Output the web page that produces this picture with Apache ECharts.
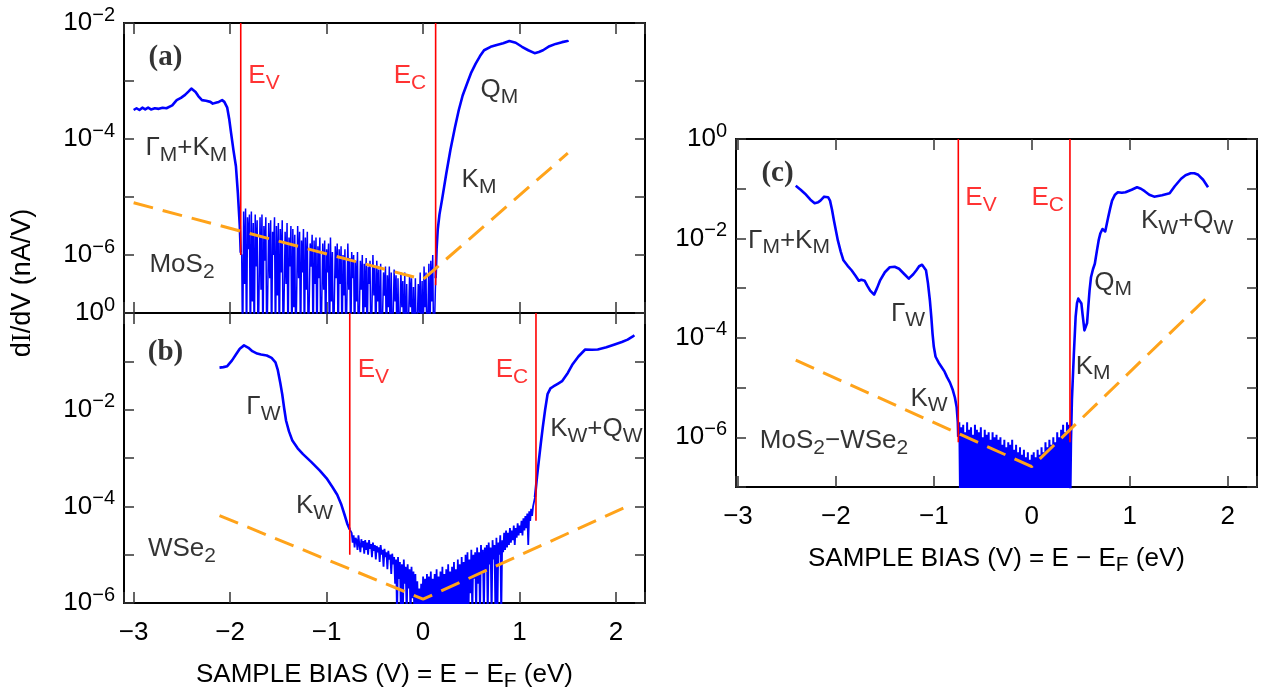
<!DOCTYPE html>
<html><head><meta charset="utf-8">
<script src="https://cdn.jsdelivr.net/npm/echarts@6/dist/echarts.min.js"></script>
<style>html,body{margin:0;padding:0;background:#fff}#c{width:1262px;height:694px}</style>
</head><body><div id="c"></div>
<script>
// ---------- DATA (x: sample bias in eV, y: log10 of dI/dV in nA/V) ----------
// Panel (a) MoS2
const mos2Left = [[-3.00,-3.50],[-2.97,-3.47],[-2.94,-3.50],[-2.91,-3.46],[-2.88,-3.49],[-2.85,-3.46],[-2.82,-3.49],[-2.78,-3.47],[-2.74,-3.48],[-2.70,-3.46],[-2.66,-3.47],[-2.64,-3.47],[-2.60,-3.42],[-2.554,-3.33],[-2.51,-3.29],[-2.467,-3.24],[-2.43,-3.18],[-2.402,-3.13],[-2.38,-3.16],[-2.358,-3.19],[-2.33,-3.26],[-2.292,-3.33],[-2.25,-3.34],[-2.205,-3.36],[-2.18,-3.39],[-2.162,-3.41],[-2.14,-3.37],[-2.118,-3.36],[-2.083,-3.33],[-2.06,-3.36],[-2.03,-3.46],[-2.01,-3.65],[-1.99,-3.90],[-1.965,-4.2],[-1.94,-4.47],[-1.92,-4.93],[-1.90,-5.5],[-1.89,-5.96]];
const mos2NoiseStart = -1.88, mos2NoiseStep = 0.01;
const mos2Noise = [
 -6.0,-7.8,-5.25,-6.5,-5.2,-7.8,-5.35,-5.9,-5.3,-7.8,-5.25,-6.8,-5.45,-7.8,-5.3,-6.2,-5.4,-7.8,-7.8,-5.35,
 -6.6,-5.3,-7.8,-5.5,-6.1,-5.35,-7.8,-7.8,-5.45,-6.4,-5.4,-7.8,-5.6,-6.0,-5.35,-7.8,-5.5,-6.7,-5.45,-7.8,
 -5.55,-6.3,-5.4,-7.8,-7.8,-5.6,-6.5,-5.45,-7.8,-5.7,-6.2,-5.5,-7.8,-5.55,-6.9,-5.65,-7.8,-7.8,-5.5,-6.4,
 -5.6,-7.8,-5.75,-6.3,-5.55,-7.8,-5.7,-6.6,-5.6,-7.8,-7.8,-5.8,-6.2,-5.65,-7.8,-5.75,-6.5,-5.7,-7.8,-5.85,
 -6.4,-5.7,-7.8,-7.8,-5.8,-6.6,-5.75,-7.8,-5.9,-6.3,-5.8,-7.8,-5.7,-6.8,-5.95,-7.8,-7.8,-5.85,-6.4,-5.8,
 -7.8,-5.9,-6.5,-5.85,-7.8,-6.0,-6.7,-5.9,-7.8,-7.8,-5.8,-6.6,-6.05,-7.8,-5.95,-6.4,-6.0,-7.8,-6.1,-6.8,
 -5.95,-7.8,-7.8,-6.1,-6.6,-6.0,-7.8,-6.15,-6.9,-6.05,-7.8,-6.2,-6.5,-6.1,-7.8,-7.8,-6.0,-6.7,-6.2,-7.8,
 -6.1,-6.8,-6.25,-7.8,-6.15,-7.8,-7.8,-6.3,-6.7,-6.2,-7.8,-6.35,-6.9,-6.2,-7.8,-6.3,-7.8,-7.8,-6.25,-6.8,
 -6.35,-7.8,-6.4,-7.8,-7.8,-6.3,-6.9,-6.45,-7.8,-6.3,-7.8,-6.5,-7.8,-7.8,-6.35,-6.9,-6.4,-7.8,-6.55,-7.8,
 -6.4,-7.8,-7.8,-6.5,-7.0,-6.3,-7.8,-6.45,-7.8,-6.2,-6.9,-6.3,-7.8,-7.8,-6.15,-7.8,-6.1,-6.8,-6.0,-7.8,
 -7.8];
const mos2Right = [[0.13,-6.4],[0.14,-5.9],[0.152,-5.56],[0.17,-5.3],[0.196,-5.05],[0.24,-4.6],[0.283,-4.19],[0.33,-3.8],[0.37,-3.50],[0.41,-3.25],[0.457,-3.04],[0.50,-2.85],[0.545,-2.70],[0.59,-2.57],[0.632,-2.47],[0.70,-2.41],[0.763,-2.38],[0.83,-2.35],[0.894,-2.31],[0.96,-2.34],[1.025,-2.41],[1.09,-2.47],[1.156,-2.52],[1.20,-2.50],[1.243,-2.47],[1.31,-2.40],[1.374,-2.36],[1.44,-2.33],[1.496,-2.31],[1.50,-2.33]];
const mos2Fit = [[-3.0,-5.10],[0.0,-6.42],[1.5,-4.245]];
const mos2Ev = [-1.89, -2, -6.0];   // x, top, bottom
const mos2Ec = [0.13, -2, -6.52];

// Panel (b) WSe2
const wse2Left = [[-2.11,-1.13],[-2.07,-1.12],[-2.03,-1.10],[-1.98,-0.98],[-1.94,-0.86],[-1.90,-0.74],[-1.856,-0.67],[-1.81,-0.72],[-1.77,-0.79],[-1.72,-0.84],[-1.68,-0.86],[-1.62,-0.88],[-1.57,-0.93],[-1.53,-1.02],[-1.507,-1.17],[-1.48,-1.45],[-1.46,-1.68],[-1.44,-1.97],[-1.42,-2.23],[-1.39,-2.45],[-1.355,-2.64],[-1.30,-2.80],[-1.245,-2.92],[-1.16,-3.08],[-1.07,-3.26],[-1.00,-3.42],[-0.94,-3.60],[-0.89,-3.76],[-0.85,-3.95],[-0.81,-4.2],[-0.786,-4.36],[-0.76,-4.48]];
const wse2NoiseStart = -0.74, wse2NoiseStep = 0.01;
const wse2Noise = [
 -4.55,-4.75,-4.6,-4.85,-4.65,-4.7,-4.9,-4.6,-4.8,-4.95,-4.68,-4.85,-4.72,-4.98,-4.7,-4.9,-4.75,-5.0,-4.7,-4.88,
 -4.78,-5.05,-4.75,-4.92,-4.8,-5.1,-4.82,-4.95,-4.85,-5.15,-4.8,-5.0,-4.9,-5.25,-4.88,-5.05,-4.95,-5.3,-4.92,-5.1,
 -5.0,-5.4,-4.98,-5.2,-5.05,-5.6,-5.1,-6.3,-5.05,-5.5,-5.15,-6.3,-5.2,-6.3,-5.1,-5.6,-5.25,-6.3,-5.2,-5.7,
 -5.3,-6.3,-5.25,-5.9,-5.35,-6.3,-5.4,-6.3,-5.55,-6.3,-5.7,-6.3,-5.6,-6.3,-5.45,-6.3,-5.5,-6.3,-5.4,-6.3,
 -5.45,-6.3,-5.35,-6.3,-5.5,-6.3,-5.4,-6.3,-5.3,-6.3,-5.45,-6.3,-5.35,-6.3,-5.25,-6.3,-5.4,-6.3,-5.3,-6.3,
 -5.2,-6.3,-5.35,-6.3,-5.25,-6.3,-5.15,-6.3,-5.3,-6.3,-5.1,-6.3,-5.2,-6.3,-5.05,-6.3,-5.15,-6.3,-5.0,-6.3,
 -4.95,-6.3,-5.1,-5.8,-4.9,-6.3,-5.0,-5.5,-4.95,-6.3,-4.85,-5.6,-4.95,-6.3,-4.8,-5.4,-4.9,-6.3,-4.85,-5.3,
 -4.8,-6.3,-4.75,-5.2,-4.85,-6.3,-4.7,-5.1,-4.8,-6.3,-4.65,-6.3,-4.75,-5.0,-4.6,-6.3,-4.7,-4.95,-4.55,-4.9,
 -4.5,-4.85,-4.55,-4.8,-4.45,-4.75,-4.5,-4.7,-4.4,-4.8,-4.45,-4.65,-4.35,-4.6,-4.4,-4.55,-4.3,-4.6,-4.25,-4.5,
 -4.2,-4.45,-4.15,-4.8,-4.1,-4.3,-4.05,-4.2,-4.0];
const wse2Right = [[1.16,-3.81],[1.18,-3.40],[1.20,-3.05],[1.22,-2.70],[1.24,-2.37],[1.265,-2.0],[1.29,-1.68],[1.32,-1.56],[1.35,-1.52],[1.40,-1.46],[1.44,-1.41],[1.50,-1.24],[1.55,-1.06],[1.61,-0.90],[1.68,-0.755],[1.75,-0.76],[1.81,-0.755],[1.90,-0.71],[1.985,-0.65],[2.06,-0.60],[2.12,-0.55],[2.17,-0.49],[2.19,-0.46]];
const wse2Fit = [[-2.11,-4.19],[0.0,-5.92],[2.14,-3.98]];
const wse2Ev = [-0.76, 0, -5.0];
const wse2Ec = [1.17, 0, -4.3];

// Panel (c) MoS2-WSe2
const hetLeft = [[-2.41,-0.94],[-2.36,-1.02],[-2.315,-1.10],[-2.26,-1.22],[-2.217,-1.29],[-2.18,-1.27],[-2.158,-1.24],[-2.12,-1.16],[-2.10,-1.14],[-2.08,-1.17],[-2.06,-1.24],[-2.04,-1.42],[-2.02,-1.64],[-2.00,-1.84],[-1.98,-2.04],[-1.95,-2.27],[-1.923,-2.44],[-1.88,-2.55],[-1.84,-2.64],[-1.80,-2.75],[-1.766,-2.85],[-1.74,-2.83],[-1.707,-2.85],[-1.68,-2.95],[-1.65,-3.05],[-1.61,-3.13],[-1.58,-3.0],[-1.55,-2.85],[-1.50,-2.68],[-1.45,-2.58],[-1.40,-2.57],[-1.355,-2.61],[-1.30,-2.72],[-1.256,-2.81],[-1.21,-2.72],[-1.178,-2.64],[-1.15,-2.56],[-1.12,-2.53],[-1.10,-2.56],[-1.08,-2.64],[-1.06,-2.90],[-1.04,-3.25],[-1.025,-3.6],[-1.013,-3.92],[-1.00,-4.18],[-0.982,-4.38],[-0.95,-4.50],[-0.923,-4.58],[-0.89,-4.68],[-0.865,-4.79],[-0.835,-4.90],[-0.806,-5.05],[-0.785,-5.2],[-0.767,-5.39],[-0.755,-5.7],[-0.751,-5.99]];
const hetNoiseStart = -0.74, hetNoiseStep = 0.01;
const hetNoise = [
 -5.7,-7.6,-5.8,-7.6,-5.75,-7.6,-5.9,-7.6,-5.7,-7.6,-5.85,-7.6,-5.8,-7.6,-5.95,-7.6,-5.75,-7.6,-5.85,-7.6,
 -5.9,-7.6,-5.8,-7.6,-6.0,-7.6,-5.85,-7.6,-5.95,-7.6,-5.9,-7.6,-6.05,-7.6,-5.9,-7.6,-6.0,-7.6,-5.95,-7.6,
 -6.05,-7.6,-6.0,-7.6,-6.15,-7.6,-6.05,-7.6,-6.2,-7.6,-6.1,-7.6,-6.15,-7.6,-6.05,-7.6,-6.25,-7.6,-6.15,-7.6,
 -6.3,-7.6,-6.2,-7.6,-6.35,-7.6,-6.25,-7.6,-6.4,-7.6,-6.3,-7.6,-6.45,-7.6,-6.35,-7.6,-6.3,-7.6,-6.4,-7.6,
 -6.25,-7.6,-6.35,-7.6,-6.2,-7.6,-6.3,-7.6,-6.1,-7.6,-6.2,-7.6,-6.05,-7.6,-6.15,-7.6,-6.0,-7.6,-6.1,-7.6,
 -5.9,-7.6,-6.0,-7.6,-5.85,-7.6,-5.75,-7.6,-5.9,-7.6,-5.7,-7.6,-5.75];
const hetRight = [[0.39,-7.6],[0.40,-6.1],[0.41,-5.25],[0.43,-4.32],[0.448,-3.58],[0.462,-3.3],[0.475,-3.21],[0.49,-3.22],[0.507,-3.31],[0.52,-3.55],[0.538,-3.85],[0.554,-3.88],[0.565,-3.7],[0.577,-3.38],[0.59,-3.05],[0.605,-2.78],[0.625,-2.62],[0.644,-2.51],[0.665,-2.25],[0.683,-2.04],[0.70,-1.9],[0.722,-1.81],[0.735,-1.84],[0.75,-1.86],[0.765,-1.72],[0.781,-1.57],[0.80,-1.40],[0.82,-1.24],[0.85,-1.12],[0.879,-1.07],[0.92,-1.08],[0.957,-1.07],[1.02,-1.02],[1.075,-0.97],[1.115,-1.0],[1.153,-1.05],[1.20,-1.12],[1.25,-1.16],[1.33,-1.13],[1.408,-1.09],[1.46,-0.95],[1.525,-0.80],[1.57,-0.73],[1.623,-0.69],[1.66,-0.69],[1.70,-0.72],[1.75,-0.82],[1.80,-0.97]];
const hetFit = [[-2.41,-4.45],[0.0,-6.59],[1.81,-3.15]];
const hetEv = [-0.75, 0, -6.1];
const hetEc = [0.39, 0, -6.1];

// Annotations (text centre): [x (eV), log10 y, rich text]
const annA = [[-2.675,-2.60,'{p|(a)}'],[-1.654,-2.91,'{r|E}{rs|V}'],[-0.142,-2.91,'{r|E}{rs|C}'],[-2.458,-4.155,'{n|\u0393}{s|M}{n|+K}{s|M}'],[0.786,-3.155,'{n|Q}{s|M}'],[0.574,-4.71,'{n|K}{s|M}'],[-2.504,-6.17,'{n|MoS}{s|2}']];
const annB = [[-2.675,-0.826,'{p|(b)}'],[-0.52,-1.18,'{r|E}{rs|V}'],[0.916,-1.18,'{r|E}{rs|C}'],[-1.66,-1.94,'{n|\u0393}{s|W}'],[1.791,-2.40,'{n|K}{s|W}{n|+Q}{s|W}'],[-1.131,-3.99,'{n|K}{s|W}'],[-2.504,-4.88,'{n|WSe}{s|2}']];
const annC = [[-2.601,-0.703,'{p|(c)}'],[-0.523,-1.185,'{r|E}{rs|V}'],[0.157,-1.185,'{r|E}{rs|C}'],[-2.484,-2.04,'{n|\u0393}{s|M}{n|+K}{s|M}'],[-1.268,-3.51,'{n|\u0393}{s|W}'],[-1.054,-5.22,'{n|K}{s|W}'],[-2.024,-6.08,'{n|MoS}{s|2}{n|\u2212WSe}{s|2}'],[0.826,-2.89,'{n|Q}{s|M}'],[0.621,-4.58,'{n|K}{s|M}'],[1.582,-1.65,'{n|K}{s|W}{n|+Q}{s|W}']];

const xTitle = '{n|SAMPLE BIAS (V) = E \u2212 E}{s|F}{n| (eV)}';

// ---------- BUILD ----------
const FONT = '"Liberation Sans", Arial, sans-serif';
const SERIF = '"Liberation Serif", "Times New Roman", serif';
const toPts = a => a.map(p => [p[0], Math.pow(10, p[1])]);
const noisePts = (s, st, a) => a.map((v, i) => [+(s + i * st).toFixed(4), Math.pow(10, v)]);

const tok = (size, color, extra) => Object.assign({fontSize: size, fontFamily: FONT, color: color, textBorderWidth: 0}, extra);
const RICH = {
  n: tok(26, '#000', {lineHeight: 35}),
  s: tok(21, '#000', {lineHeight: 20, verticalAlign: 'bottom'}),
  r: tok(26, '#ff0000', {lineHeight: 35}),
  rs: tok(21, '#ff0000', {lineHeight: 20, verticalAlign: 'bottom'}),
  p: {fontSize: 29, fontFamily: SERIF, fontWeight: 'bold', color: '#000', lineHeight: 35, textBorderWidth: 0}
};
const TRICH = {
  n: tok(26, '#000', {lineHeight: 34}),
  s: tok(21, '#000', {lineHeight: 20, verticalAlign: 'bottom'})
};

const panels = [
  {grid: {left: 124, top: 23, width: 521, height: 290}, x: [-3.1, 2.3], y: [1e-7, 1e-2], ys: 5, lab: false, nw: 1.5,
   left: mos2Left, noise: noisePts(mos2NoiseStart, mos2NoiseStep, mos2Noise), right: mos2Right,
   fit: mos2Fit, ev: mos2Ev, ec: mos2Ec, ann: annA},
  {grid: {left: 124, top: 313, width: 521, height: 290}, x: [-3.1, 2.3], y: [1e-6, 1], ys: 6, lab: true, nw: 1.8,
   left: wse2Left, noise: noisePts(wse2NoiseStart, wse2NoiseStep, wse2Noise), right: wse2Right,
   fit: wse2Fit, ev: wse2Ev, ec: wse2Ec, ann: annB},
  {grid: {left: 736, top: 139, width: 521, height: 348}, x: [-3.02, 2.3], y: [1e-7, 1], ys: 7, lab: true, nw: 2,
   left: hetLeft, noise: noisePts(hetNoiseStart, hetNoiseStep, hetNoise), right: hetRight,
   fit: hetFit, ev: hetEv, ec: hetEc, ann: annC}
];

const xFmt = v => {
  if (Math.abs(v - Math.round(v)) > 1e-6) return '';
  const r = Math.round(v);
  return r < 0 ? '\u2212' + (-r) : String(r);
};
const yFmt = v => {
  const e = Math.round(Math.log10(v));
  if (Math.abs(e % 2) === 1) return '';
  return '{b|10}{s|' + (e < 0 ? '\u2212' + (-e) : String(Math.abs(e))) + '}';
};
const YRICH = {
  b: tok(26, '#000', {lineHeight: 36}),
  s: tok(20, '#000', {lineHeight: 19, verticalAlign: 'top'})
};
const axLine = {show: true, onZero: false, lineStyle: {color: '#000', width: 2}};
const tick = len => ({show: true, inside: true, length: len, lineStyle: {color: '#333', width: 1.5}});

const grids = [], xAxes = [], yAxes = [], series = [];
panels.forEach((P, k) => {
  grids.push(Object.assign({outerBoundsMode: 'none', containLabel: false}, P.grid));
  const xb = {gridIndex: k, type: 'value', position: 'bottom', min: P.x[0], max: P.x[1], splitNumber: 5, minInterval: 1, maxInterval: 1,
    axisLine: axLine, axisTick: tick(11), splitLine: {show: false},
    axisLabel: {show: P.lab, margin: 17, fontSize: 26, fontFamily: FONT, color: '#000', formatter: xFmt}};
  if (P.lab) Object.assign(xb, {name: xTitle, nameLocation: 'middle', nameGap: 55, nameTextStyle: {rich: TRICH}});
  xAxes.push(xb);
  xAxes.push({gridIndex: k, type: 'value', position: 'top', min: P.x[0], max: P.x[1], splitNumber: 5, minInterval: 1, maxInterval: 1,
    axisLine: axLine, axisTick: tick(11), splitLine: {show: false}, axisLabel: {show: false}});
  yAxes.push({gridIndex: k, type: 'log', logBase: 10, position: 'left', min: P.y[0], max: P.y[1], splitNumber: P.ys,
    axisLine: axLine, axisTick: tick(10), splitLine: {show: false}, minorTick: {show: false},
    axisLabel: {show: true, margin: 9, formatter: yFmt, rich: YRICH}});
  yAxes.push({gridIndex: k, type: 'log', logBase: 10, position: 'right', min: P.y[0], max: P.y[1], splitNumber: P.ys,
    axisLine: axLine, axisTick: tick(10), splitLine: {show: false}, minorTick: {show: false}, axisLabel: {show: false}});
  const ax = {xAxisIndex: 2 * k, yAxisIndex: 2 * k};
  const L = toPts(P.left), R = toPts(P.right);
  [L, R].forEach(d => series.push(Object.assign({type: 'line', data: d, symbol: 'none', clip: true, silent: true, z: 2,
    lineStyle: {color: '#0000ff', width: 2.6, join: 'round'}}, ax)));
  series.push(Object.assign({type: 'line', data: [L[L.length - 1]].concat(P.noise, [R[0]]), symbol: 'none', clip: true, silent: true, z: 2,
    lineStyle: {color: '#0000ff', width: P.nw}}, ax));
  [P.ev, P.ec].forEach(V => series.push(Object.assign({type: 'line', data: [[V[0], Math.pow(10, V[1])], [V[0], Math.pow(10, V[2])]],
    symbol: 'none', silent: true, z: 3, lineStyle: {color: '#ff0000', width: 1.6}}, ax)));
  series.push(Object.assign({type: 'line', data: toPts(P.fit), symbol: 'none', silent: true, z: 4,
    lineStyle: {color: '#ffa31a', width: 3, type: [20, 10]}}, ax));
  series.push(Object.assign({type: 'scatter', symbol: 'circle', symbolSize: 1, silent: true, z: 5,
    itemStyle: {color: 'rgba(0,0,0,0)'},
    label: {show: true, position: 'right', distance: 0, align: 'center', verticalAlign: 'middle', color: '#000', textBorderWidth: 0, rich: RICH},
    data: P.ann.map(a => ({value: [a[0], Math.pow(10, a[1])], label: {formatter: a[2]}}))}, ax));
});

const chart = echarts.init(document.getElementById('c'), null, {renderer: 'canvas'});
chart.setOption({
  animation: false,
  backgroundColor: '#fff',
  textStyle: {fontFamily: FONT},
  grid: grids, xAxis: xAxes, yAxis: yAxes, series: series,
  graphic: [{type: 'text', x: 23, y: 283, rotation: Math.PI / 2,
    style: {text: '{n|d}{i|I}{n|/dV (nA/V)}', rich: {n: {fontSize: 27, fontFamily: FONT, fill: '#000'}, i: {fontSize: 27, fontFamily: SERIF, fill: '#000'}},
      align: 'center', verticalAlign: 'middle', fill: '#000'}}]
});
</script></body></html>
